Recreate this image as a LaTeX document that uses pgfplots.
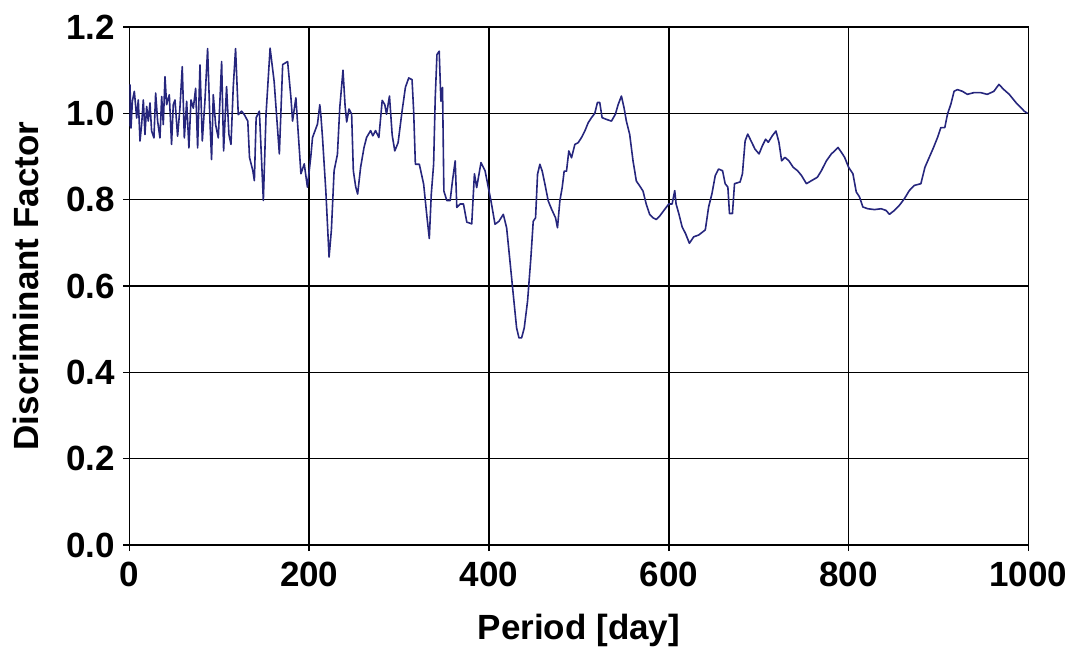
\documentclass[border=0pt]{standalone}
\usepackage{pgfplots}
\pgfplotsset{compat=1.18}
\usepackage{fontspec}
\setmainfont{Liberation Sans}
\definecolor{navy}{RGB}{38,38,125}
\pgfplotstableread{
x y
0 0.97
0.7 1.066
1.8 0.966
3.3 1.028
5.5 1.051
8.1 0.989
9.9 1.031
11.8 0.936
13.6 0.974
15.5 1.031
17.3 0.951
19.2 1.016
21.0 0.982
22.9 1.024
24.7 0.959
27.3 0.943
29.2 1.047
31.4 0.982
34.0 0.943
35.9 1.039
37.7 0.974
39.6 1.085
41.4 1.02
44.4 1.043
46.9 0.928
48.8 1.02
50.7 1.031
53.6 0.947
56.2 1.012
58.8 1.108
61.1 0.943
63.7 1.028
66.2 0.92
68.5 1.031
71.1 1.012
73.7 1.058
75.9 0.92
78.5 1.112
81.1 0.936
84.0 1.028
87.0 1.15
89.6 0.982
91.4 0.893
93.3 1.043
95.9 0.974
98.9 0.943
102.6 1.12
104.8 0.913
108.1 1.062
110.7 0.951
113.0 0.928
115.5 1.06
118.1 1.15
121.1 0.997
124.8 1.005
127.8 0.997
131.7 0.982
133.6 0.898
137.3 0.867
139.0 0.844
141.0 0.99
144.6 1.005
149.0 0.798
152.0 0.998
156.5 1.151
161.0 1.074
166.8 0.906
170.5 1.113
176.0 1.12
179.7 1.036
181.5 0.982
185.2 1.036
190.8 0.86
194.5 0.883
198.0 0.829
201.8 0.9
203.7 0.944
209.2 0.975
211.8 1.02
212.9 0.998
214.8 0.944
218.5 0.82
222.1 0.667
224.7 0.73
227.7 0.867
231.4 0.905
234.0 1.013
237.6 1.10
239.9 1.018
241.7 0.98
244.3 1.01
247.2 0.998
249.1 0.867
251.7 0.83
253.9 0.813
257.2 0.875
260.9 0.92
263.8 0.944
268.3 0.96
270.8 0.948
273.8 0.96
277.5 0.944
281.2 1.03
284.1 1.02
286.0 0.998
289.3 1.04
292.3 0.95
295.2 0.913
298.9 0.932
303.3 1.005
307.0 1.06
310.7 1.082
314.4 1.078
316.2 1.005
318.1 0.882
322.5 0.882
327.3 0.836
331.0 0.76
333.6 0.71
335.8 0.813
338.4 0.882
340.2 1.036
342.1 1.136
344.6 1.144
346.5 1.028
348.3 1.06
349.8 0.82
353.1 0.798
356.8 0.798
359.4 0.844
362.4 0.89
364.2 0.782
367.9 0.79
371.6 0.79
375.3 0.748
380.8 0.744
383.8 0.86
386.3 0.828
391.1 0.886
395.6 0.867
399.3 0.828
402.2 0.797
406.7 0.743
411.1 0.75
415.9 0.766
419.6 0.735
423.3 0.658
427.0 0.58
430.7 0.503
433.3 0.48
436.3 0.48
439.2 0.503
442.9 0.565
446.6 0.666
449.2 0.75
451.8 0.758
454.0 0.859
456.6 0.882
459.2 0.866
462.2 0.836
465.9 0.797
469.6 0.778
474.0 0.758
476.2 0.735
478.8 0.797
481.4 0.828
483.6 0.866
486.2 0.866
488.8 0.913
491.8 0.897
495.5 0.928
499.2 0.932
502.9 0.944
506.6 0.959
510.3 0.978
514.0 0.99
517.7 1.0
520.6 1.025
523.2 1.025
525.8 0.99
530.6 0.986
536.2 0.982
540.6 0.998
543.6 1.02
547.3 1.04
550.2 1.013
552.8 0.982
556.5 0.951
560.2 0.89
563.9 0.843
567.6 0.832
571.3 0.82
575.0 0.789
578.7 0.766
582.4 0.758
586.1 0.754
589.8 0.762
594.5 0.775
600.0 0.79
603.7 0.79
606.6 0.821
608.1 0.79
611.1 0.768
614.8 0.737
618.5 0.722
622.9 0.699
627.7 0.714
633.2 0.718
640.6 0.73
644.3 0.783
648.0 0.814
651.7 0.856
655.4 0.871
659.8 0.867
662.7 0.837
665.7 0.829
667.5 0.768
670.8 0.768
673.1 0.837
679.3 0.841
681.9 0.86
684.9 0.936
687.8 0.952
691.5 0.936
695.9 0.917
700.4 0.906
704.1 0.925
707.7 0.94
710.7 0.933
715.1 0.948
719.2 0.959
722.5 0.933
725.5 0.89
729.2 0.898
733.6 0.89
738.4 0.875
743.2 0.867
747.6 0.856
753.1 0.837
758.7 0.844
765.3 0.852
769.7 0.867
775.3 0.89
780.8 0.906
784.5 0.913
788.2 0.921
791.9 0.91
795.6 0.898
800.0 0.875
804.8 0.86
808.5 0.818
812.2 0.806
815.9 0.783
821.4 0.779
828.8 0.777
836.2 0.779
841.7 0.775
845.4 0.766
850.9 0.775
856.5 0.787
862.0 0.802
867.5 0.821
873.1 0.833
880.4 0.837
884.9 0.875
889.7 0.898
894.5 0.921
898.9 0.944
902.6 0.967
907.0 0.967
910.0 0.998
913.7 1.021
917.3 1.051
921.0 1.055
926.6 1.051
932.1 1.044
939.5 1.048
946.9 1.048
954.2 1.044
961.6 1.051
967.2 1.067
972.7 1.055
978.7 1.044
986.1 1.025
995.4 1.005
999.0 1.0
}\datatable
\begin{document}
\begin{tikzpicture}
\useasboundingbox (-129.4pt,-104pt) rectangle (946.6pt,545pt);
\begin{axis}[
  scale only axis, width=899pt, height=518pt,
  xmin=0, xmax=1000, ymin=0, ymax=1.2,
  xtick={0,200,400,600,800,1000},
  ytick={0,0.2,0.4,0.6,0.8,1.0,1.2},
  grid=major, grid style={black, line width=1.5pt},
  axis line style={black, line width=1.5pt},
  tick align=outside, major tick length=6pt,
  tick style={black, line width=1.5pt},
  tick pos=left,
  /pgf/number format/assume math mode=true,
  ticklabel style={font=\fontsize{35}{35}\selectfont\bfseries},
  yticklabel style={xshift=-5pt, /pgf/number format/.cd, fixed, fixed zerofill, precision=1},
  xticklabel style={yshift=-8pt, /pgf/number format/.cd, fixed, 1000 sep={}},
  label style={font=\fontsize{35}{35}\selectfont\bfseries},
  xlabel={Period [day]},
  ylabel={Discriminant Factor},
  xlabel style={at={(axis description cs:0.5,-0.165)}, anchor=center},
  ylabel style={at={(axis description cs:-0.115,0.5)}, anchor=center},
]
\addplot[color=navy, line width=1.6pt, line join=round, no markers] table[x=x,y=y] {\datatable};
\end{axis}
\end{tikzpicture}
\end{document}
